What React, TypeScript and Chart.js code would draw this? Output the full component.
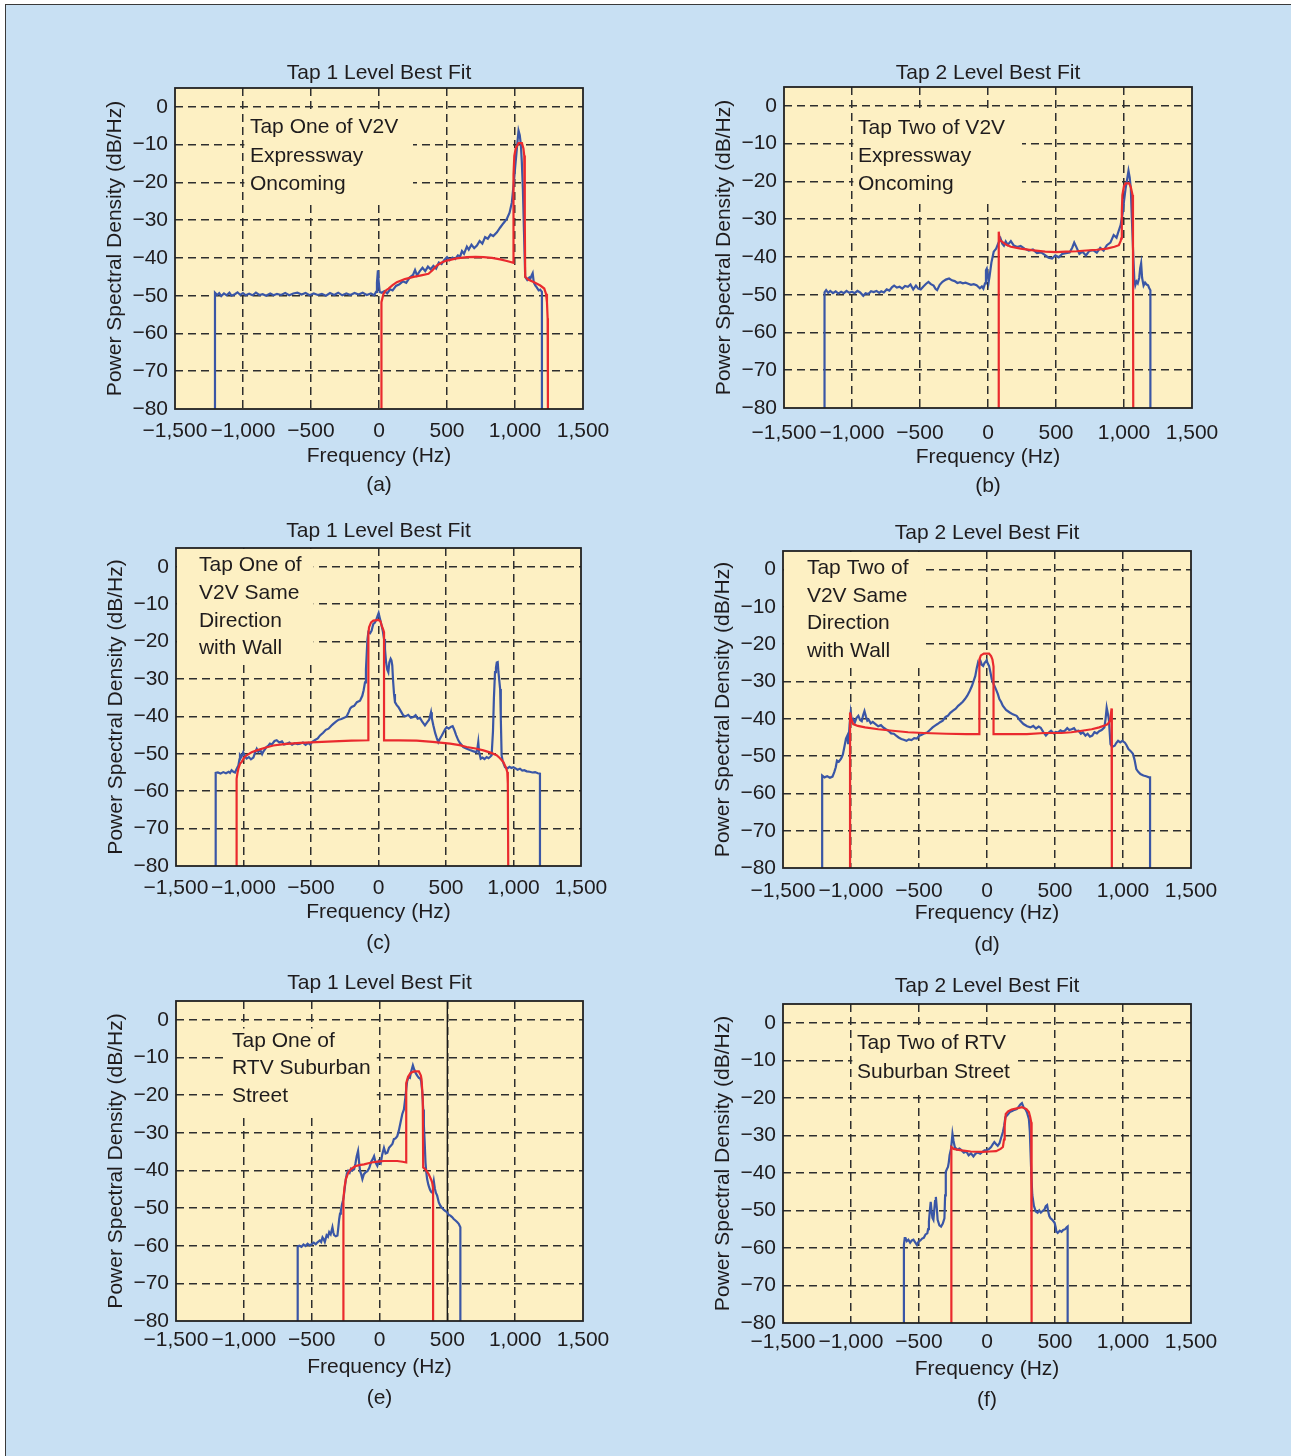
import React, { useEffect, useRef } from 'react';
import { Chart, registerables } from 'chart.js';

Chart.register(...registerables);

type Pt = [number, number];

// ---------- axes ----------
const X_MIN = -1500;
const X_MAX = 1500;
const Y_MIN = -80;
const Y_MAX = 5;
const X_TICKS = [-1500, -1000, -500, 0, 500, 1000, 1500];
const X_TICK_LABELS = ['\u22121,500', '\u22121,000', '\u2212500', '0', '500', '1,000', '1,500'];
const Y_TICKS = [0, -10, -20, -30, -40, -50, -60, -70, -80];
const Y_TICK_LABELS = ['0', '\u221210', '\u221220', '\u221230', '\u221240', '\u221250', '\u221260', '\u221270', '\u221280'];
const X_TITLE = 'Frequency (Hz)';
const Y_TITLE = 'Power Spectral Density (dB/Hz)';

// ---------- panel texts ----------
const PANEL_TITLES = [
  'Tap 1 Level Best Fit', 'Tap 2 Level Best Fit',
  'Tap 1 Level Best Fit', 'Tap 2 Level Best Fit',
  'Tap 1 Level Best Fit', 'Tap 2 Level Best Fit',
];
const PANEL_LETTERS = ['(a)', '(b)', '(c)', '(d)', '(e)', '(f)'];
const PANEL_NOTES = [
  ['Tap One of V2V', 'Expressway', 'Oncoming'],
  ['Tap Two of V2V', 'Expressway', 'Oncoming'],
  ['Tap One of', 'V2V Same', 'Direction', 'with Wall'],
  ['Tap Two of', 'V2V Same', 'Direction', 'with Wall'],
  ['Tap One of', 'RTV Suburban', 'Street'],
  ['Tap Two of RTV', 'Suburban Street'],
];

// ---------- data: [frequency Hz, PSD dB/Hz] ----------
const A_MEASURED: Pt[] = [
  [-1206, -80], [-1206, -49.2], [-1190, -49.8], [-1175, -49.3], [-1160, -50.1], [-1140, -49.4], [-1120, -49.9],
  [-1100, -49.2], [-1085, -50.0], [-1060, -49.6], [-1040, -49.1], [-1020, -49.8], [-1000, -49.3], [-980, -49.9],
  [-955, -49.5], [-930, -49.9], [-905, -49.2], [-880, -49.8], [-855, -49.6], [-830, -50.0], [-800, -49.4],
  [-775, -49.9], [-750, -49.5], [-720, -49.8], [-690, -49.3], [-660, -49.9], [-630, -49.4], [-600, -49.2],
  [-570, -49.7], [-540, -49.3], [-510, -49.9], [-480, -49.4], [-450, -49.8], [-420, -49.5], [-390, -50.0],
  [-360, -49.3], [-330, -49.8], [-300, -49.2], [-270, -49.9], [-240, -49.4], [-210, -49.8], [-180, -49.3],
  [-150, -49.7], [-120, -49.2], [-90, -49.8], [-60, -49.4], [-35, -49.9], [-22, -49.0], [-15, -46.5],
  [-8, -43.3], [-3, -46.0], [5, -49.0], [20, -49.2], [40, -48.8], [60, -49.4], [82, -48.3], [100, -48.6],
  [125, -47.4], [150, -47.0], [175, -46.2], [200, -46.6], [225, -45.2], [250, -44.5], [265, -43.2],
  [280, -44.6], [300, -43.5], [320, -42.6], [340, -43.5], [360, -42.3], [380, -43.0], [400, -42.1],
  [420, -42.8], [440, -41.2], [460, -41.6], [480, -40.5], [500, -39.8], [520, -40.6], [540, -39.9],
  [560, -40.3], [580, -39.3], [597, -39.6], [610, -38.2], [625, -38.9], [646, -37.0], [660, -37.8],
  [680, -36.5], [700, -37.4], [720, -36.7], [740, -35.5], [760, -36.2], [780, -34.5], [800, -34.9],
  [820, -33.8], [840, -34.2], [867, -33.2], [890, -32.0], [915, -30.8], [940, -29.7], [960, -28.0],
  [977, -25.3], [990, -20.5], [1002, -15.6], [1015, -10.5], [1026, -6.3], [1035, -7.5], [1043, -9.9],
  [1050, -14.5], [1058, -21.7], [1066, -33.0], [1075, -45.0], [1090, -45.8], [1105, -45.2], [1112, -45.6],
  [1122, -44.6], [1130, -44.0], [1138, -46.5], [1149, -47.3], [1160, -47.8], [1174, -48.6], [1185, -48.4],
  [1198, -49.0], [1198, -80],
];
const A_FIT: Pt[] = [
  [16, -80], [16, -55], [20, -51.7], [33, -49.5], [50, -48.6], [70, -48.1], [100, -47.2], [131, -46.4],
  [190, -45.6], [254, -45.0], [310, -44.6], [364, -44.2], [395, -43.2], [425, -42.0], [460, -41.2],
  [499, -40.7], [570, -40.1], [646, -39.8], [710, -39.7], [769, -39.8], [830, -40.0], [891, -40.4],
  [940, -40.8], [989, -41.3], [989, -18], [995, -13], [1005, -11], [1026, -9.6], [1051, -9.6], [1062, -11],
  [1068, -12.9], [1072, -30], [1075, -45.0], [1100, -45.8], [1137, -46.4], [1186, -47.3], [1215, -48.1],
  [1228, -49.5], [1235, -51.7], [1240, -56], [1242, -80],
];

const B_MEASURED: Pt[] = [
  [-1202, -80], [-1202, -49.4], [-1190, -48.8], [-1175, -49.5], [-1160, -49.0], [-1140, -49.6], [-1120, -49.1],
  [-1100, -49.7], [-1080, -49.2], [-1060, -49.6], [-1040, -49.0], [-1020, -49.5], [-1000, -49.2], [-980, -49.6],
  [-960, -49.0], [-940, -49.4], [-917, -50.3], [-900, -49.6], [-880, -49.8], [-860, -49.1], [-841, -49.3],
  [-820, -49.0], [-800, -49.5], [-785, -49.1], [-766, -49.4], [-745, -48.6], [-725, -48.9], [-705, -48.0],
  [-690, -47.6], [-670, -48.1], [-650, -47.9], [-630, -48.4], [-610, -47.7], [-589, -47.9], [-570, -47.3],
  [-550, -48.6], [-530, -47.6], [-513, -48.4], [-495, -48.6], [-475, -47.8], [-455, -47.1], [-438, -46.6],
  [-420, -47.2], [-400, -47.6], [-385, -48.5], [-374, -48.8], [-355, -47.4], [-335, -46.6], [-310, -46.0],
  [-286, -45.7], [-265, -46.2], [-245, -46.4], [-225, -46.9], [-205, -46.7], [-185, -47.0], [-165, -46.8],
  [-145, -47.1], [-125, -47.4], [-105, -47.2], [-84, -47.5], [-60, -48.3], [-45, -47.8], [-34, -48.4],
  [-22, -47.0], [-15, -43.5], [-9, -43.1], [-3, -44.5], [5, -46.6], [12, -45.0], [25, -41.5], [42, -38.6],
  [60, -37.8], [75, -36.4], [92, -35.1], [105, -36.5], [117, -37.0], [130, -35.9], [145, -36.8], [168, -35.8],
  [190, -37.0], [215, -37.4], [240, -37.1], [269, -37.8], [300, -38.3], [330, -38.0], [360, -39.0],
  [390, -38.8], [420, -39.5], [445, -40.2], [471, -40.4], [495, -39.6], [520, -40.1], [545, -39.2],
  [572, -39.0], [600, -38.8], [620, -37.5], [634, -36.2], [650, -37.4], [672, -39.2], [695, -38.6],
  [720, -39.6], [745, -38.4], [773, -38.2], [800, -38.9], [825, -37.6], [850, -38.3], [874, -36.9],
  [900, -36.2], [924, -34.2], [945, -34.9], [960, -33.2], [975, -31.6], [990, -28.5], [1000, -25.2],
  [1012, -21.8], [1025, -19.0], [1033, -17.2], [1042, -19.0], [1050, -21.8], [1058, -30.0], [1068, -39.5],
  [1076, -46.0], [1083, -47.5], [1092, -46.5], [1101, -47.0], [1112, -45.5], [1119, -43.0], [1126, -41.7],
  [1133, -45.5], [1144, -47.6], [1155, -46.8], [1166, -47.3], [1177, -47.5], [1185, -48.2], [1194, -48.8],
  [1194, -80],
];
const B_FIT: Pt[] = [
  [79, -80], [79, -33.3], [85, -35.5], [105, -36.0], [135, -36.8], [168, -37.3], [240, -37.8], [319, -38.2],
  [420, -38.6], [500, -38.7], [572, -38.6], [650, -38.5], [723, -38.3], [800, -38.1], [874, -37.8],
  [930, -37.3], [962, -36.9], [975, -35.8], [980, -35.1], [984, -28], [988, -23.6], [1000, -21.2],
  [1012, -20.5], [1038, -20.5], [1050, -21.5], [1063, -23.6], [1066, -35], [1068, -80],
];

const C_MEASURED: Pt[] = [
  [-1206, -80], [-1206, -55.1], [-1190, -55.0], [-1170, -55.3], [-1150, -54.9], [-1130, -55.2], [-1110, -54.8],
  [-1100, -55.1], [-1088, -54.4], [-1075, -54.8], [-1063, -55.0], [-1050, -54.0], [-1038, -53.1], [-1030, -51.5],
  [-1026, -50.3], [-1015, -50.8], [-1002, -49.6], [-990, -50.7], [-977, -51.3], [-960, -50.9], [-945, -51.5],
  [-927, -51.0], [-915, -49.8], [-902, -48.7], [-890, -49.5], [-875, -49.0], [-862, -50.1], [-853, -49.4],
  [-830, -48.2], [-815, -47.8], [-804, -47.3], [-790, -47.5], [-770, -46.6], [-754, -46.4], [-735, -47.0],
  [-715, -46.7], [-700, -47.5], [-680, -47.3], [-660, -47.0], [-640, -47.6], [-620, -47.2], [-600, -47.4],
  [-581, -47.3], [-560, -47.0], [-540, -47.6], [-520, -47.1], [-507, -47.5], [-490, -46.8], [-470, -46.3],
  [-450, -45.9], [-433, -45.1], [-410, -44.4], [-390, -43.6], [-370, -43.3], [-350, -42.5], [-335, -42.0],
  [-315, -41.4], [-295, -40.9], [-275, -40.7], [-255, -40.4], [-236, -40.0], [-220, -38.8], [-210, -37.9],
  [-199, -37.5], [-180, -37.2], [-160, -36.2], [-137, -35.8], [-120, -34.5], [-110, -33.0], [-100, -30.9],
  [-93, -27.5], [-88, -23.8], [-82, -19.5], [-75, -17.5], [-62, -17.8], [-51, -17.1], [-45, -16.2],
  [-38, -15.3], [-28, -15.0], [-19, -14.4], [-8, -13.3], [1, -12.4], [10, -13.8], [23, -15.7], [32, -17.2],
  [41, -19.3], [48, -22.0], [56, -25.5], [65, -27.5], [73, -28.2], [80, -25.6], [90, -24.6], [96, -25.0],
  [102, -26.4], [108, -30.5], [115, -34.0], [122, -36.2], [135, -37.0], [147, -37.5], [165, -38.6],
  [184, -39.8], [200, -40.0], [220, -39.6], [240, -40.4], [258, -40.2], [275, -39.7], [290, -40.6],
  [307, -40.4], [325, -41.5], [344, -42.4], [360, -41.6], [375, -40.9], [385, -39.5], [389, -38.9],
  [395, -40.5], [406, -42.4], [420, -44.5], [432, -45.8], [443, -46.9], [455, -46.0], [468, -45.2],
  [480, -44.4], [493, -43.5], [505, -42.9], [520, -43.3], [535, -42.8], [549, -42.6], [560, -43.5],
  [575, -45.0], [591, -46.4], [605, -47.2], [628, -48.2], [650, -48.6], [677, -49.0], [700, -49.3],
  [726, -49.6], [733, -48.5], [739, -46.9], [745, -49.5], [757, -51.3], [770, -51.0], [785, -51.4],
  [801, -50.9], [815, -51.2], [828, -50.8], [838, -50.4], [848, -44.0], [855, -35.0], [863, -28.2],
  [870, -27.0], [876, -25.6], [883, -25.5], [888, -28.0], [895, -30.5], [901, -32.7], [906, -40.5],
  [912, -50.4], [920, -52.0], [937, -53.6], [955, -53.9], [970, -53.5], [985, -53.8], [999, -53.6],
  [1015, -53.9], [1030, -54.3], [1048, -54.0], [1065, -54.5], [1080, -54.4], [1098, -54.7], [1120, -54.8],
  [1140, -55.0], [1160, -54.9], [1180, -55.2], [1196, -55.3], [1196, -80],
];
const C_FIT: Pt[] = [
  [-1051, -80], [-1051, -56.7], [-1045, -55.2], [-1038, -54.0], [-1025, -52.6], [-1014, -52.2], [-995, -51.0],
  [-977, -50.4], [-940, -49.6], [-902, -49.1], [-840, -48.4], [-779, -47.8], [-700, -47.4], [-581, -47.1],
  [-460, -46.9], [-335, -46.7], [-200, -46.5], [-75, -46.4], [-75, -18], [-70, -16.2], [-55, -14.9],
  [-38, -14.4], [-1, -14.2], [15, -14.6], [23, -15.7], [35, -16.8], [41, -17.5], [41, -46.4], [150, -46.4],
  [283, -46.5], [400, -46.8], [530, -47.3], [600, -47.7], [653, -48.2], [720, -48.6], [777, -49.1],
  [830, -49.7], [875, -50.4], [900, -51.2], [925, -52.2], [945, -53.8], [954, -54.9], [958, -58], [961, -80],
];

const D_MEASURED: Pt[] = [
  [-1212, -80], [-1212, -55.2], [-1195, -55.7], [-1175, -55.4], [-1155, -55.8], [-1136, -55.5], [-1123, -54.3],
  [-1112, -53.0], [-1103, -51.2], [-1090, -51.5], [-1073, -50.7], [-1060, -49.6], [-1047, -47.2], [-1037, -45.3],
  [-1027, -44.5], [-1022, -46.5], [-1017, -45.2], [-1010, -41.5], [-1002, -38.3], [-993, -40.6], [-984, -40.1],
  [-972, -41.0], [-960, -39.8], [-946, -39.2], [-933, -40.3], [-921, -40.6], [-910, -38.9], [-901, -37.9],
  [-890, -39.4], [-880, -40.5], [-870, -40.2], [-855, -41.2], [-840, -40.8], [-820, -41.4], [-800, -42.0],
  [-780, -41.7], [-760, -42.4], [-744, -42.8], [-725, -43.2], [-705, -43.9], [-685, -44.0], [-668, -44.5],
  [-650, -45.0], [-630, -45.4], [-612, -45.6], [-592, -45.9], [-575, -45.5], [-555, -45.7], [-535, -45.2],
  [-516, -45.3], [-500, -44.6], [-480, -44.3], [-460, -43.9], [-440, -43.7], [-420, -43.0], [-400, -42.3],
  [-382, -41.8], [-364, -41.4], [-345, -40.9], [-325, -40.5], [-305, -39.5], [-288, -39.2], [-270, -38.4],
  [-250, -37.8], [-230, -37.3], [-212, -36.5], [-195, -36.0], [-178, -35.4], [-162, -34.7], [-145, -33.8],
  [-128, -32.6], [-111, -31.2], [-98, -29.8], [-86, -28.5], [-76, -26.5], [-66, -24.9], [-57, -25.6],
  [-48, -24.5], [-38, -25.5], [-28, -25.8], [-18, -25.0], [-10, -24.7], [-3, -24.3], [6, -25.2], [15, -25.8],
  [25, -27.5], [35, -29.4], [50, -30.8], [66, -32.1], [80, -33.4], [91, -34.7], [104, -35.5], [116, -36.5],
  [140, -37.6], [167, -38.3], [190, -38.8], [218, -39.2], [240, -40.3], [268, -41.4], [295, -42.0],
  [319, -42.3], [340, -41.9], [360, -42.6], [380, -42.1], [395, -42.4], [413, -43.5], [433, -44.5],
  [450, -43.8], [471, -43.2], [490, -43.9], [505, -43.5], [521, -43.7], [540, -43.1], [555, -43.4],
  [572, -43.2], [590, -42.5], [605, -43.0], [622, -42.8], [640, -42.5], [655, -43.3], [673, -43.2],
  [690, -44.0], [705, -43.6], [724, -44.5], [740, -44.0], [757, -44.8], [774, -44.5], [790, -43.6],
  [808, -43.9], [825, -43.3], [843, -43.0], [863, -42.3], [872, -40.0], [880, -37.0], [888, -38.5],
  [896, -40.1], [902, -43.5], [908, -46.8], [920, -47.5], [939, -47.2], [950, -46.5], [964, -45.9],
  [980, -46.3], [995, -45.9], [1014, -46.4], [1025, -47.0], [1040, -48.1], [1055, -48.6], [1073, -49.4],
  [1085, -51.0], [1098, -53.5], [1112, -54.2], [1128, -54.8], [1150, -55.2], [1170, -55.4], [1191, -55.7],
  [1199, -55.7], [1199, -80],
];
const D_FIT: Pt[] = [
  [-1007, -80], [-1007, -38.3], [-1000, -39.8], [-984, -41.4], [-950, -41.9], [-896, -42.3], [-800, -42.8],
  [-693, -43.2], [-580, -43.6], [-465, -43.8], [-300, -44.0], [-150, -44.1], [-56, -44.1], [-56, -24.1],
  [-45, -23.0], [-23, -22.5], [15, -22.5], [30, -23.2], [40, -24.1], [48, -26], [48, -44.1], [150, -44.1],
  [293, -44.1], [420, -43.8], [546, -43.8], [620, -43.6], [698, -43.2], [770, -42.8], [825, -42.3],
  [870, -41.7], [888, -41.4], [905, -40.5], [916, -37.2], [918, -80],
];

const E_MEASURED: Pt[] = [
  [-603, -80], [-603, -60.2], [-591, -60.0], [-575, -60.3], [-560, -59.7], [-545, -60.1], [-530, -59.5],
  [-515, -59.9], [-500, -59.6], [-485, -59.2], [-470, -59.6], [-457, -59.1], [-440, -58.6], [-430, -59.0],
  [-420, -57.8], [-411, -58.3], [-403, -59.0], [-390, -57.2], [-380, -57.6], [-371, -56.4], [-360, -57.0],
  [-347, -55.1], [-340, -56.5], [-334, -57.2], [-322, -57.5], [-310, -57.3], [-303, -55.0], [-297, -52.9],
  [-291, -51.5], [-285, -50.7], [-276, -49.0], [-266, -47.6], [-257, -45.0], [-248, -42.3], [-240, -40.8],
  [-231, -40.1], [-220, -40.6], [-210, -39.6], [-200, -40.0], [-187, -39.7], [-178, -38.3], [-168, -36.2],
  [-158, -34.8], [-150, -38.0], [-143, -40.2], [-135, -41.0], [-126, -42.3], [-115, -41.0], [-100, -40.4],
  [-89, -40.2], [-75, -39.3], [-60, -37.6], [-50, -37.0], [-40, -36.2], [-28, -38.0], [-16, -38.8],
  [-5, -37.5], [9, -38.1], [20, -35.8], [33, -34.0], [45, -35.5], [58, -35.3], [70, -34.0], [82, -33.5],
  [95, -33.0], [106, -31.7], [118, -31.5], [131, -30.9], [142, -29.5], [155, -27.3], [168, -25.0],
  [180, -23.8], [186, -22.0], [192, -20.3], [198, -18.0], [204, -16.3], [214, -15.2], [224, -15.4],
  [235, -13.5], [246, -12.1], [256, -13.2], [266, -14.1], [278, -14.8], [290, -15.4], [300, -15.6],
  [307, -16.3], [315, -19.0], [322, -23.8], [327, -28.0], [332, -31.7], [339, -37.9], [345, -40.5],
  [351, -42.3], [360, -43.8], [371, -45.0], [380, -45.7], [388, -45.9], [394, -44.0], [400, -42.8],
  [408, -44.8], [416, -46.0], [425, -46.7], [437, -48.5], [449, -49.4], [462, -50.0], [475, -50.5],
  [486, -50.8], [498, -51.1], [510, -51.8], [523, -52.0], [535, -52.4], [547, -52.9], [560, -53.3],
  [572, -53.7], [584, -54.2], [596, -55.1], [596, -80],
];
const E_FIT: Pt[] = [
  [-266, -80], [-266, -47.6], [-258, -44.5], [-248, -42.3], [-230, -40.6], [-212, -39.7], [-180, -38.9],
  [-150, -38.6], [-114, -38.4], [-60, -37.9], [0, -37.6], [33, -37.5], [131, -37.5], [170, -37.7],
  [197, -37.9], [197, -16.8], [210, -15.2], [229, -14.1], [255, -13.7], [290, -13.7], [305, -14.8],
  [310, -15.8], [319, -21.2], [322, -39.2], [340, -39.8], [363, -41.0], [380, -42.4], [388, -43.2],
  [395, -44.5], [395, -80],
];
const E_REFERENCE_HZ = 500;

const F_MEASURED: Pt[] = [
  [-611, -80], [-611, -59.2], [-605, -57.4], [-599, -57.4], [-590, -58.2], [-578, -57.8], [-565, -58.6],
  [-553, -58.0], [-541, -57.8], [-528, -58.5], [-515, -59.2], [-503, -58.3], [-490, -58.0], [-477, -57.5],
  [-465, -57.3], [-452, -56.4], [-439, -56.1], [-433, -55.0], [-427, -53.0], [-420, -50.0], [-414, -47.7],
  [-408, -50.0], [-401, -52.0], [-394, -52.5], [-388, -50.0], [-382, -47.5], [-376, -46.4], [-370, -49.0],
  [-363, -52.5], [-350, -54.0], [-338, -54.3], [-325, -53.5], [-313, -52.1], [-308, -46.0], [-303, -39.7],
  [-295, -39.0], [-287, -38.4], [-281, -37.2], [-275, -35.3], [-264, -33.5], [-254, -29.6], [-246, -31.5],
  [-237, -33.1], [-220, -33.8], [-203, -33.5], [-186, -34.0], [-170, -34.6], [-152, -34.3], [-135, -35.3],
  [-118, -34.8], [-100, -35.6], [-85, -34.9], [-68, -34.6], [-50, -34.9], [-34, -34.4], [-18, -34.0],
  [0, -33.9], [16, -33.6], [30, -33.1], [42, -32.4], [54, -31.8], [66, -32.3], [79, -32.8], [92, -32.1],
  [105, -30.5], [117, -29.1], [126, -27.5], [135, -25.2], [150, -24.6], [168, -23.8], [185, -23.5],
  [202, -23.2], [219, -23.0], [232, -22.4], [245, -21.8], [257, -21.4], [270, -22.6], [282, -23.0],
  [295, -24.0], [308, -25.6], [315, -29.0], [320, -34.4], [326, -40.5], [333, -45.9], [345, -48.8],
  [359, -50.3], [372, -50.6], [384, -50.0], [396, -50.6], [410, -50.1], [422, -49.8], [432, -48.9],
  [442, -48.6], [450, -50.3], [458, -51.5], [467, -52.1], [480, -52.5], [497, -53.3], [505, -54.5],
  [510, -55.6], [520, -56.0], [535, -55.4], [548, -55.7], [560, -55.2], [575, -55.0], [586, -54.5],
  [593, -54.3], [593, -80],
];
const F_FIT: Pt[] = [
  [-262, -80], [-262, -33.1], [-245, -33.6], [-220, -33.8], [-186, -34.0], [-120, -34.3], [-34, -34.4],
  [20, -34.3], [67, -34.2], [100, -33.6], [117, -33.1], [125, -31.1], [130, -27.5], [138, -24.3],
  [155, -23.6], [181, -23.1], [220, -22.8], [257, -22.5], [290, -23.0], [308, -23.8], [318, -25.2],
  [325, -26.5], [328, -80],
];

// ---------- styles ----------
const FONT = '"Liberation Sans", Arial, Helvetica, sans-serif';
const TEXT = '#1f1c1d';
const PAGE_BG = '#c8e0f3';
const PLOT_BG = '#fdf0c3';
const GRID = '#2e2e2e';
const FRAME = '#222222';
const MEAS_COLOR = '#3a56a6';
const FIT_COLOR = '#ea2a2e';
const REF_COLOR = '#1a1a1a';
const FONT_SIZE = 21;

interface Layout {
  L: number; T: number; W: number; H: number;
  titleDy: number; tickDy: number; letterDy: number; lineGap: number;
  box: [number, number, number, number];
  noteHz: number; noteDb: number; noteGap: number;
}
interface Panel {
  title: string; letter: string; note: string[];
  measured: Pt[]; fit: Pt[]; refHz?: number; layout: Layout;
}

const LAYOUTS: Layout[] = [
  { L: 175, T: 88, W: 408, H: 321, titleDy: 15, tickDy: 22.5, letterDy: 76, lineGap: 28.3,
    box: [-990, 250, -1.6, -25.5], noteHz: -949, noteDb: -5.5, noteGap: 28.3 },
  { L: 784, T: 87, W: 408, H: 321, titleDy: 14, tickDy: 25.5, letterDy: 78, lineGap: 28.5,
    box: [-990, 250, -1.6, -25.5], noteHz: -956, noteDb: -5.8, noteGap: 28 },
  { L: 176, T: 548, W: 405, H: 318, titleDy: 17, tickDy: 22.3, letterDy: 77.6, lineGap: 31.6,
    box: [-1500, -480, 5, -25.6], noteHz: -1330, noteDb: 0.3, noteGap: 27.6 },
  { L: 783, T: 551, W: 408, H: 317, titleDy: 17.7, tickDy: 23.5, letterDy: 77, lineGap: 32,
    box: [-1500, -460, 5, -25.7], noteHz: -1324, noteDb: 0.3, noteGap: 27.5 },
  { L: 176, T: 1001, W: 407, H: 320, titleDy: 17.7, tickDy: 19, letterDy: 77.6, lineGap: 31.6,
    box: [-1138, -20, -2.3, -24.8], noteHz: -1087, noteDb: -5.7, noteGap: 27.3 },
  { L: 783, T: 1004, W: 408, H: 319, titleDy: 17.3, tickDy: 19.5, letterDy: 77, lineGap: 31,
    box: [-990, 228, -1.7, -18], noteHz: -956, noteDb: -5.4, noteGap: 28.7 },
];

const MEASURED = [A_MEASURED, B_MEASURED, C_MEASURED, D_MEASURED, E_MEASURED, F_MEASURED];
const FITS = [A_FIT, B_FIT, C_FIT, D_FIT, E_FIT, F_FIT];

const PANELS: Panel[] = LAYOUTS.map((layout, i) => ({
  title: PANEL_TITLES[i],
  letter: PANEL_LETTERS[i],
  note: PANEL_NOTES[i],
  measured: MEASURED[i],
  fit: FITS[i],
  refHz: i === 4 ? E_REFERENCE_HZ : undefined,
  layout,
}));

const PAD_L = 5;
const PAD_T = 45;
const PAD_R = 45;
const PAD_B = 5;
const Y_AXIS_W = 95;
const X_AXIS_H = 100;

function makeDecor(p: Panel) {
  const lay = p.layout;
  return {
    id: 'panelDecor',
    beforeDraw(chart: any) {
      const { ctx, chartArea: a } = chart;
      ctx.save();
      ctx.fillStyle = PLOT_BG;
      ctx.fillRect(a.left, a.top, a.right - a.left, a.bottom - a.top);
      ctx.restore();
    },
    beforeDatasetsDraw(chart: any) {
      const { ctx, chartArea: a, scales } = chart;
      const xs = scales.x;
      const ys = scales.y;
      const [f0, f1, d0, d1] = lay.box;
      const x0 = Math.max(a.left + 1, xs.getPixelForValue(f0));
      const x1 = Math.min(a.right - 1, xs.getPixelForValue(f1));
      const y0 = Math.max(a.top + 1, ys.getPixelForValue(d0));
      const y1 = ys.getPixelForValue(d1);
      ctx.save();
      ctx.fillStyle = PLOT_BG;
      ctx.fillRect(x0, y0, x1 - x0, y1 - y0);
      ctx.fillStyle = TEXT;
      ctx.font = `${FONT_SIZE}px ${FONT}`;
      ctx.textAlign = 'left';
      ctx.textBaseline = 'middle';
      const tx = xs.getPixelForValue(lay.noteHz);
      const ty = ys.getPixelForValue(lay.noteDb);
      p.note.forEach((s, i) => ctx.fillText(s, tx, ty + i * lay.noteGap));
      ctx.restore();
    },
    afterDatasetsDraw(chart: any) {
      const { ctx, chartArea: a } = chart;
      ctx.save();
      ctx.strokeStyle = FRAME;
      ctx.lineWidth = 1.8;
      ctx.strokeRect(a.left, a.top, a.right - a.left, a.bottom - a.top);
      ctx.fillStyle = TEXT;
      ctx.font = `${FONT_SIZE}px ${FONT}`;
      ctx.textAlign = 'center';
      ctx.textBaseline = 'middle';
      ctx.fillText(p.title, (a.left + a.right) / 2, a.top - lay.titleDy);
      ctx.restore();
    },
  };
}

const toXY = (pts: Pt[]) => pts.map(([x, y]) => ({ x, y }));

function PanelChart({ panel }: { panel: Panel }) {
  const ref = useRef<HTMLCanvasElement>(null);
  const lay = panel.layout;
  const cw = PAD_L + Y_AXIS_W + lay.W + PAD_R;
  const ch = PAD_T + lay.H + X_AXIS_H + PAD_B;

  useEffect(() => {
    if (!ref.current) return;
    const datasets: any[] = [
      { data: toXY(panel.fit), borderColor: FIT_COLOR, borderWidth: 2.2, pointRadius: 0, fill: false, tension: 0 },
      { data: toXY(panel.measured), borderColor: MEAS_COLOR, borderWidth: 2.2, pointRadius: 0, fill: false, tension: 0 },
    ];
    if (panel.refHz !== undefined) {
      datasets.push({
        data: [{ x: panel.refHz, y: Y_MIN }, { x: panel.refHz, y: Y_MAX }],
        borderColor: REF_COLOR, borderWidth: 1.4, pointRadius: 0, fill: false, tension: 0,
      });
    }
    const titleFont = { size: FONT_SIZE, family: FONT };
    const chart = new Chart(ref.current, {
      type: 'line',
      data: { datasets },
      plugins: [makeDecor(panel) as any],
      options: {
        responsive: false,
        animation: false,
        devicePixelRatio: 1,
        events: [],
        layout: { padding: { left: PAD_L, top: PAD_T, right: PAD_R, bottom: PAD_B } },
        plugins: { legend: { display: false }, tooltip: { enabled: false }, title: { display: false } },
        scales: {
          x: {
            type: 'linear',
            min: X_MIN,
            max: X_MAX,
            afterBuildTicks: (s: any) => { s.ticks = X_TICKS.map((v) => ({ value: v })); },
            afterFit: (s: any) => { s.height = X_AXIS_H; },
            ticks: {
              autoSkip: false,
              maxRotation: 0,
              padding: lay.tickDy - FONT_SIZE * 0.6,
              color: TEXT,
              font: { size: FONT_SIZE, family: FONT },
              callback: (_v: any, i: number) => X_TICK_LABELS[i],
            },
            grid: {
              drawTicks: false,
              lineWidth: 1.5,
              color: (c: any) => (c.tick && (c.tick.value === X_MIN || c.tick.value === X_MAX) ? 'rgba(0,0,0,0)' : GRID),
            },
            border: { display: false, dash: [8, 5] },
            title: {
              display: true,
              text: [X_TITLE, panel.letter],
              color: TEXT,
              font: { size: FONT_SIZE, family: FONT, lineHeight: `${lay.lineGap}px` },
              padding: { top: 0, bottom: X_AXIS_H - lay.letterDy - lay.lineGap / 2 },
            },
          },
          y: {
            type: 'linear',
            min: Y_MIN,
            max: Y_MAX,
            afterBuildTicks: (s: any) => { s.ticks = Y_TICKS.map((v) => ({ value: v })); },
            afterFit: (s: any) => { s.width = Y_AXIS_W; },
            ticks: {
              autoSkip: false,
              padding: 7,
              color: TEXT,
              font: { size: FONT_SIZE, family: FONT },
              callback: (_v: any, i: number) => Y_TICK_LABELS[i],
            },
            grid: {
              drawTicks: false,
              lineWidth: 1.5,
              color: (c: any) => (c.tick && c.tick.value === Y_MIN ? 'rgba(0,0,0,0)' : GRID),
            },
            border: { display: false, dash: [8, 5] },
            title: {
              display: true,
              text: Y_TITLE,
              color: TEXT,
              font: titleFont,
              padding: { top: 35 - FONT_SIZE * 0.6, bottom: 0 },
            },
          },
        },
      } as any,
    });
    return () => chart.destroy();
  }, [panel]);

  return (
    <canvas
      ref={ref}
      width={cw}
      height={ch}
      style={{ position: 'absolute', left: lay.L - PAD_L - Y_AXIS_W, top: lay.T - PAD_T, width: cw, height: ch }}
    />
  );
}

export default function App() {
  return (
    <div style={{ position: 'absolute', left: 0, top: 0, width: 1291, height: 1456, overflow: 'hidden' }}>
      <div
        style={{
          position: 'absolute', left: 5, top: 4, width: 1286, height: 1452, boxSizing: 'border-box',
          background: PAGE_BG, borderLeft: '1.5px solid #3a3a3a', borderTop: '1.5px solid #3a3a3a',
        }}
      />
      {PANELS.map((p, i) => (
        <PanelChart key={i} panel={p} />
      ))}
    </div>
  );
}
